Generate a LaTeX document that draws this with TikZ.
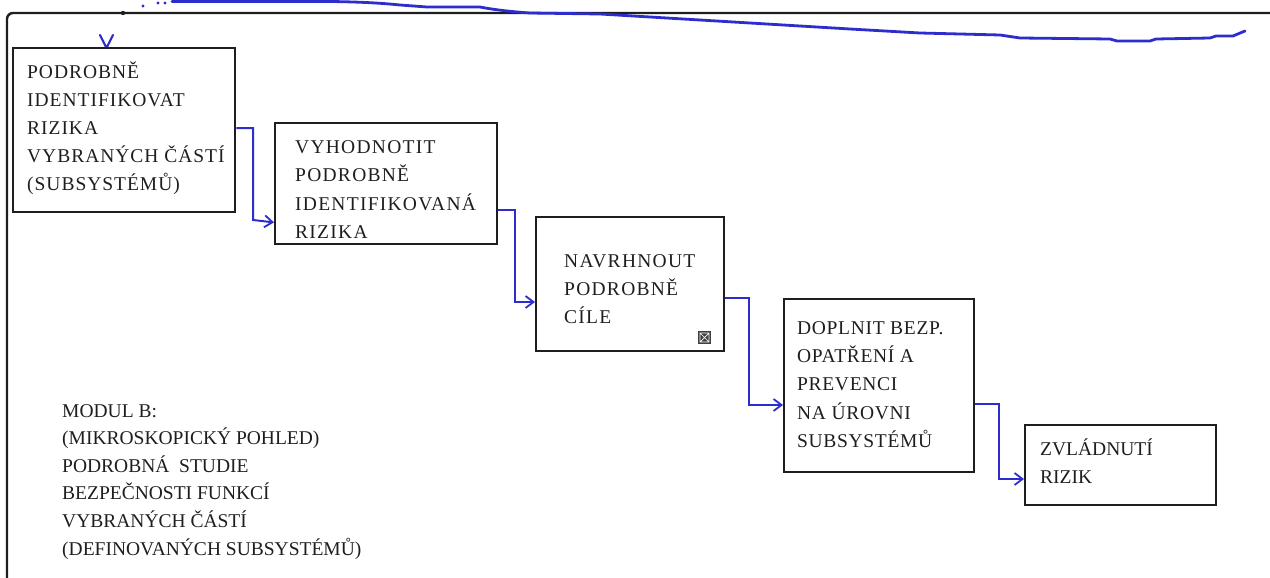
\documentclass[tikz,border=0pt]{standalone}
\usepackage{fontspec}
\setmainfont{Liberation Serif}
\newfontfamily\spacedA{Liberation Serif}[LetterSpace=5]
\newfontfamily\spacedB{Liberation Serif}[LetterSpace=6.5]
\newfontfamily\spacedC{Liberation Serif}[LetterSpace=3.5]
\usetikzlibrary{arrows.meta}
\definecolor{penblue}{RGB}{45,45,205}
\definecolor{inkgray}{RGB}{30,30,30}
\tikzset{
  stepbox/.style={draw=inkgray, line width=2.4pt, rectangle, inner sep=0pt, anchor=north west},
  boxtext/.style={anchor=north west, inner sep=0pt, align=left, text=inkgray,
    font=\fontsize{19.5}{28}\selectfont},
  conn/.style={draw=penblue, line width=2pt, -{Straight Barb[length=8pt,width=12pt,line width=1.8pt]}},
  frameline/.style={draw=inkgray, line width=2.4pt, rounded corners=6pt},
  scribble/.style={draw=penblue, line width=2.8pt, line cap=round, line join=round},
}
\begin{document}
\begin{tikzpicture}[x=1pt,y=-1pt]
\useasboundingbox (0,0) rectangle (1270,578);
% frame
\draw[frameline] (7,578) -- (7,13) -- (1270,13);
\fill[inkgray] (123,13) circle (2.2pt);
% hand-drawn blue line at the top
\draw[scribble] (172,1.5) -- (330,1.5) .. controls (370,2) and (390,4) .. (400,5)
  -- (427,7) -- (480,7) .. controls (495,10) and (515,12) .. (530,13)
  -- (600,14) -- (650,17) -- (700,20) -- (750,23) -- (800,26) -- (850,29)
  -- (920,33) -- (1000,35) -- (1020,38) -- (1110,39) -- (1117,41) -- (1150,41)
  -- (1156,39) -- (1210,38) -- (1216,36) -- (1233,36) -- (1245,31);
\fill[penblue] (143,6) circle (1.7pt);
\fill[penblue] (158,3) circle (1.7pt);
\fill[penblue] (165,3) circle (1.7pt);
\draw[scribble, line width=2.2pt] (100,35) -- (106.5,48) -- (113,35);
% boxes
\node[stepbox, minimum width=222pt, minimum height=164pt] (b1) at (12,47) {};
\node[stepbox, minimum width=222pt, minimum height=121pt] (b2) at (274,122) {};
\node[stepbox, minimum width=188pt, minimum height=134pt] (b3) at (535,216) {};
\node[stepbox, minimum width=190pt, minimum height=173pt] (b4) at (783,298) {};
\node[stepbox, minimum width=191pt, minimum height=80pt] (b5) at (1024,424) {};
% texts
\node[boxtext, font=\fontsize{19.5}{28}\spacedA] (t1) at (27,58.5) {\strut PODROBNĚ\\IDENTIFIKOVAT\\RIZIKA\\VYBRANÝCH ČÁSTÍ\\(SUBSYSTÉMŮ)};
\node[boxtext, font=\fontsize{19.5}{28.3}\spacedB] (t2) at (295,133.5) {\strut VYHODNOTIT\\PODROBNĚ\\IDENTIFIKOVANÁ\\RIZIKA};
\node[boxtext, font=\fontsize{19.5}{27.8}\spacedB] (t3) at (564,248) {\strut NAVRHNOUT\\PODROBNĚ\\CÍLE};
\node[boxtext, font=\fontsize{19.5}{28.2}\spacedC] (t4) at (797,314.5) {\strut DOPLNIT BEZP.\\OPATŘENÍ A\\PREVENCI\\NA ÚROVNI\\SUBSYSTÉMŮ};
\node[boxtext] (t5) at (1040,436) {\strut ZVLÁDNUTÍ\\RIZIK};
\node[boxtext, font=\fontsize{19.5}{27.6}\selectfont] (t6) at (62,397.5) {\strut MODUL B:\\(MIKROSKOPICKÝ POHLED)\\PODROBNÁ \ STUDIE\\BEZPEČNOSTI FUNKCÍ\\VYBRANÝCH ČÁSTÍ\\(DEFINOVANÝCH SUBSYSTÉMŮ)};
% small symbol in box 3
\fill[inkgray!85] (698,331) rectangle (711,344);
\draw[white, line width=0.7pt] (700,333) rectangle (709,342)
  (700,333) -- (709,342) (700,342) -- (709,333);
% connectors
\coordinate (k1) at (253,220);
\coordinate (k2) at (515,302);
\coordinate (k3) at (749,405);
\coordinate (k4) at (999,479);
\draw[conn] ([yshift=-81pt]b1.north east) -| (k1) -- ([yshift=23pt]b2.south west);
\draw[conn] ([yshift=-88pt]b2.north east) -| (k2) -- ([yshift=-86pt]b3.north west);
\draw[conn] ([yshift=-82pt]b3.north east) -| (k3) -- ([yshift=-107pt]b4.north west);
\draw[conn] ([yshift=-106pt]b4.north east) -| (k4) -- ([yshift=-55pt]b5.north west);
\end{tikzpicture}
\end{document}
